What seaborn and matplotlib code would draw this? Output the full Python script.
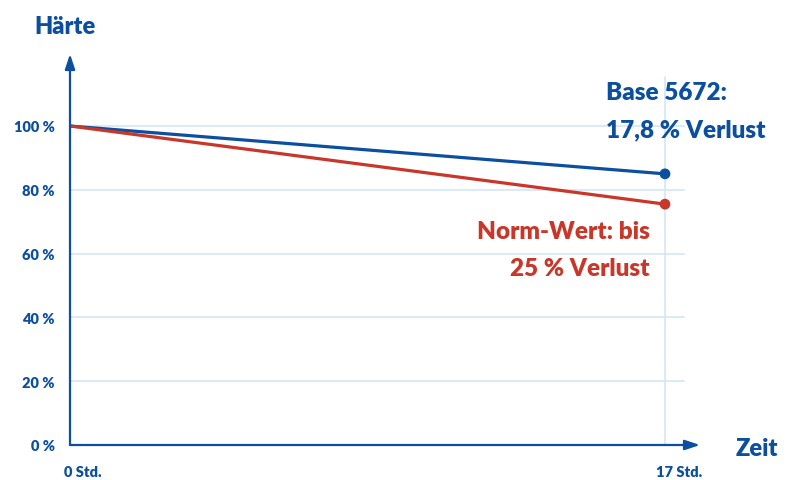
import numpy as np
import pandas as pd
import matplotlib
matplotlib.use("Agg")
import matplotlib.pyplot as plt
import seaborn as sns

# data
hours = [0, 17]
base_5672 = [100, 85]
norm_wert = [100, 75.5]
y_ticks = [0, 20, 40, 60, 80, 100]
y_labels = ["0 %", "20 %", "40 %", "60 %", "80 %", "100 %"]
x_labels = ["0 Std.", "17 Std."]

BLUE = "#0b4f9e"
RED = "#c9372a"
GRID = "#d3e6f6"

sns.set_style("white")
plt.rcParams["font.family"] = ["Lato", "DejaVu Sans"]
plt.rcParams["font.weight"] = "heavy"
WT = "heavy"

df = pd.DataFrame({
    "Zeit": hours * 2,
    "Härte": base_5672 + norm_wert,
    "Serie": ["Base 5672"] * 2 + ["Norm-Wert"] * 2,
})

fig = plt.figure(figsize=(7.9, 4.81), dpi=100)
# axes box: left edge = y axis (px 70), right = arrow tip (px 700); bottom px 446, top px 55
W, H = 790, 481
ax = fig.add_axes([70 / W, (H - 446) / H, 630 / W, 391 / H])
x_max = 17 * 630 / 595
y_max = 391 / 3.19
ax.set_xlim(0, x_max)
ax.set_ylim(0, y_max)

# light grid
grid_end = 17 * 614 / 595
for v in y_ticks[1:]:
    ax.plot([0, grid_end], [v, v], color=GRID, lw=1.2, zorder=1)
ax.plot([17, 17], [0, (446 - 78) / 3.19], color=GRID, lw=1.2, zorder=1)

sns.lineplot(data=df, x="Zeit", y="Härte", hue="Serie",
             palette={"Base 5672": BLUE, "Norm-Wert": RED},
             lw=2.3, legend=False, ax=ax, zorder=3)
ends = df[df["Zeit"] == 17]
sns.scatterplot(data=ends, x="Zeit", y="Härte", hue="Serie",
                palette={"Base 5672": BLUE, "Norm-Wert": RED},
                s=60, edgecolor="none", legend=False, ax=ax, zorder=4)

for s in ax.spines.values():
    s.set_visible(False)
ax.set_xlabel("")
ax.set_ylabel("")
ax.set_xticks([])
ax.set_yticks(y_ticks)
ax.set_yticklabels(y_labels, color=BLUE, fontsize=10.5, fontweight=WT)
ax.tick_params(axis="y", length=0, pad=11)

# axis arrows
arrow = dict(arrowstyle="-|>,head_length=0.9,head_width=0.3", color=BLUE, lw=1.6,
             shrinkA=0, shrinkB=0)
ax.annotate("", xy=(0, 1), xytext=(0, 0), xycoords="axes fraction", arrowprops=arrow,
            annotation_clip=False)
ax.annotate("", xy=(1, 0), xytext=(0, 0), xycoords="axes fraction", arrowprops=arrow,
            annotation_clip=False)

# x labels
fig.text(64 / W, 1 - 473 / H, x_labels[0], color=BLUE, fontsize=10.5, fontweight=WT,
         ha="left", va="center")
fig.text(679 / W, 1 - 473 / H, x_labels[1], color=BLUE, fontsize=10.5, fontweight=WT,
         ha="center", va="center")

# axis titles
fig.text(34 / W, 1 - 27 / H, "Härte", color=BLUE, fontsize=17, fontweight=WT,
         ha="left", va="center")
fig.text(736 / W, 1 - 449 / H, "Zeit", color=BLUE, fontsize=17, fontweight=WT,
         ha="left", va="center")

# annotations
fig.text(606 / W, 1 - 93 / H, "Base 5672:", color=BLUE, fontsize=17.5, fontweight=WT,
         ha="left", va="center")
fig.text(606 / W, 1 - 130 / H, "17,8 % Verlust", color=BLUE, fontsize=17.5, fontweight=WT,
         ha="left", va="center")
fig.text(650 / W, 1 - 232 / H, "Norm-Wert: bis", color=RED, fontsize=17.5, fontweight=WT,
         ha="right", va="center")
fig.text(650 / W, 1 - 269 / H, "25 % Verlust", color=RED, fontsize=17.5, fontweight=WT,
         ha="right", va="center")

fig.savefig("out.png", dpi=100)
